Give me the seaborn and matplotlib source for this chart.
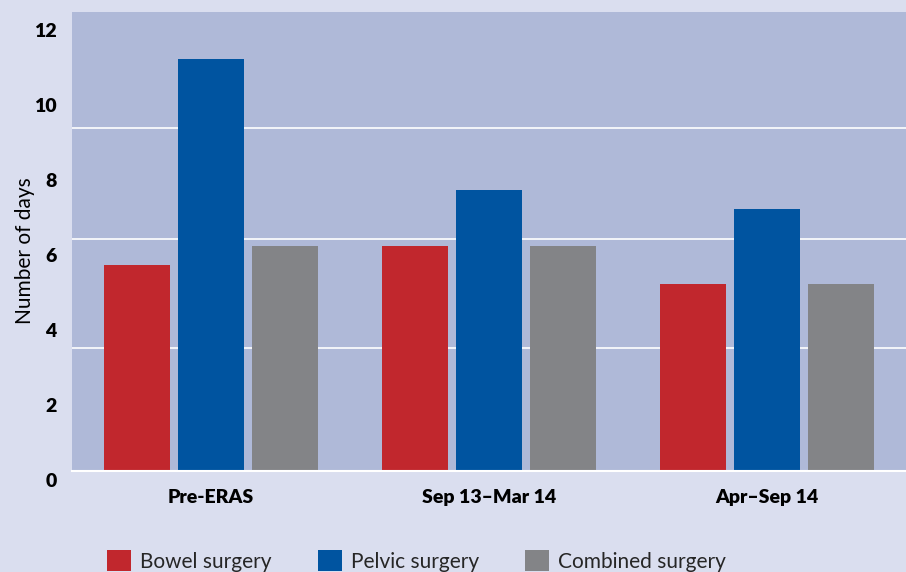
import matplotlib
matplotlib.use("Agg")
import matplotlib.pyplot as plt
import matplotlib.transforms as mtransforms
import pandas as pd
import seaborn as sns

# Length of stay by surgery type across the three ERAS periods
periods = ["Pre-ERAS", "Sep 13\u2013Mar 14", "Apr\u2013Sep 14"]
surgery_types = ["Bowel surgery", "Pelvic surgery", "Combined surgery"]
bowel_days = [5.5, 6.0, 5.0]
pelvic_days = [11.0, 7.5, 7.0]
combined_days = [6.0, 6.0, 5.0]
y_ticks = [0, 2, 4, 6, 8, 10, 12]

colors = ["#c1272d", "#0054a0", "#838487"]
fig_bg = "#dadeef"
ax_bg = "#afb9d8"

rows = []
for name, vals in zip(surgery_types, [bowel_days, pelvic_days, combined_days]):
    for p, v in zip(periods, vals):
        rows.append({"period": p, "surgery": name, "days": v})
df = pd.DataFrame(rows)

sns.set_theme(style="white")
plt.rcParams["font.family"] = ["Lato", "DejaVu Sans"]

fig = plt.figure(figsize=(9.06, 5.72), dpi=100, facecolor=fig_bg)
ax = fig.add_axes([72 / 906, 101 / 572, 834 / 906, 459 / 572])
ax.set_facecolor(ax_bg)

sns.barplot(data=df, x="period", y="days", hue="surgery",
            order=periods, hue_order=surgery_types, palette=colors,
            saturation=1, gap=0.1, linewidth=0, errorbar=None, ax=ax,
            zorder=3)

# white horizontal rules across the plot area
for yv in [3.28, 6.19, 9.15]:
    ax.axhline(yv, color="white", lw=1.2, zorder=1)

ax.set_xlim(-0.5, 2.5)
ax.set_ylim(0, 12.24)
ax.set_yticks(y_ticks)
ax.set_yticklabels([str(t) for t in y_ticks])
ax.tick_params(axis="both", length=0)
ax.tick_params(axis="y", pad=11)
ax.tick_params(axis="x", pad=13)
for lab in ax.get_yticklabels() + ax.get_xticklabels():
    lab.set_fontweight("heavy")
    lab.set_fontsize(14)
    lab.set_color("black")
offset = mtransforms.ScaledTranslation(0, -9 / 100, fig.dpi_scale_trans)
for lab in ax.get_yticklabels():
    lab.set_transform(lab.get_transform() + offset)

ax.set_xlabel("")
ax.set_ylabel("Number of days", fontsize=15, color="black")
ax.yaxis.set_label_coords(-0.044, 0.481)

for side in ["top", "right", "left"]:
    ax.spines[side].set_visible(False)
ax.spines["bottom"].set_color("white")
ax.spines["bottom"].set_linewidth(1.5)
ax.spines["bottom"].set_zorder(4)

handles, labels = ax.get_legend_handles_labels()
ax.get_legend().remove()
fig.legend(handles, labels, ncol=3, loc="center left",
           bbox_to_anchor=(107 / 906, 11 / 572), frameon=False,
           fontsize=15, handlelength=1.15, handleheight=1.15,
           handletextpad=0.45, columnspacing=2.2, borderpad=0,
           borderaxespad=0)

fig.savefig("out.png", dpi=100, facecolor=fig_bg)
